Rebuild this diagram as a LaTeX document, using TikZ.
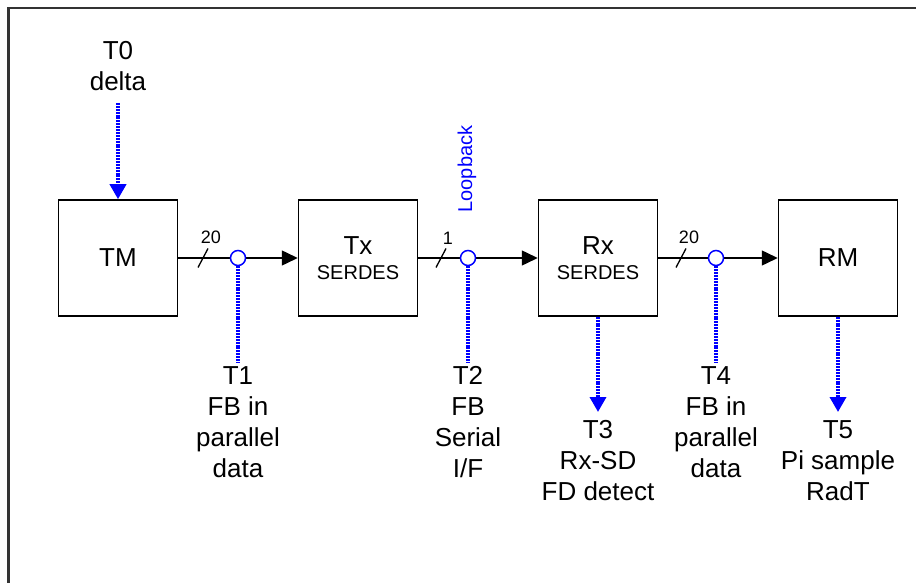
\documentclass[tikz,border=0pt]{standalone}
\usepackage{fontspec}
\setmainfont{Liberation Sans}
\usepackage{xcolor}
\usepackage{tikz}
\usetikzlibrary{arrows.meta}

\tikzset{
  blk/.style={draw,line width=1.5pt,minimum width=119pt,minimum height=116pt,inner sep=0pt,
    align=center,font=\fontsize{26}{27}\selectfont},
  sig/.style={line width=1.5pt,-{Triangle[length=16pt,width=15pt]}},
  probe/.style={blue,line width=3.5pt,dash pattern=on 2pt off 0.9pt},
  probearr/.style={probe,-{Triangle[length=15pt,width=16pt,fill=blue]}},
  tap/.style={circle,draw=blue,fill=white,line width=1.5pt,minimum size=15pt,inner sep=0pt},
  lbl/.style={align=center,inner sep=0pt,font=\fontsize{26}{31}\selectfont},
  bus/.style={inner sep=0pt,font=\fontsize{18}{19}\selectfont},
}

\begin{document}
\begin{tikzpicture}[x=1pt,y=-1pt]
\useasboundingbox (0,0) rectangle (916,583);
\draw[line width=2.5pt,black!80] (8.5,600) -- (8.5,8) -- (930,8);

\node[blk] (TM) at (118,258) {TM};
\node[blk] (Tx) at (358,258) {Tx\\[-2pt]{\fontsize{20}{21}\selectfont SERDES}};
\node[blk] (Rx) at (598,258) {Rx\\[-2pt]{\fontsize{20}{21}\selectfont SERDES}};
\node[blk] (RM) at (838,258) {RM};

\draw[sig] (TM) -- (Tx);
\draw[sig] (Tx) -- (Rx);
\draw[sig] (Rx) -- (RM);

% bus width marks
\draw[line width=1.3pt] (203,258) ++(-5,9.5) -- ++(10,-19);
\node[bus] at (211,237) {20};
\draw[line width=1.3pt] (441,258) ++(-5,9.5) -- ++(10,-19);
\node[bus] at (448,238) {1};
\draw[line width=1.3pt] (681,258) ++(-5,9.5) -- ++(10,-19);
\node[bus] at (689,237) {20};

\node[blue,rotate=90,font=\fontsize{20}{21}\selectfont] (lb) at (467,169) {Loopback};

% test points
\node[lbl] (t0) at (118,66) {T0\\delta};
\coordinate (s0) at (118,103);
\draw[probearr] (s0) -- (TM);

\node[tap] (c1) at (238,258) {};
\node[tap] (c2) at (468,258) {};
\node[tap] (c4) at (716,258) {};
\coordinate (e1) at (238,362);
\coordinate (e2) at (468,362);
\coordinate (e4) at (716,362);
\draw[probe] (c1) -- (e1);
\draw[probe] (c2) -- (e2);
\draw[probe] (c4) -- (e4);
\node[lbl] (t1) at (238,422) {T1\\FB in\\parallel\\data};
\node[lbl] (t2) at (468,422) {T2\\FB\\Serial\\I/F};
\node[lbl] (t4) at (716,422) {T4\\FB in\\parallel\\data};

\coordinate (e3) at (598,412);
\coordinate (e5) at (838,412);
\draw[probearr] (Rx) -- (e3);
\draw[probearr] (RM) -- (e5);
\node[lbl] (t3) at (598,461) {T3\\Rx-SD\\FD detect};
\node[lbl] (t5) at (838,461) {T5\\Pi sample\\RadT};
\end{tikzpicture}
\end{document}
